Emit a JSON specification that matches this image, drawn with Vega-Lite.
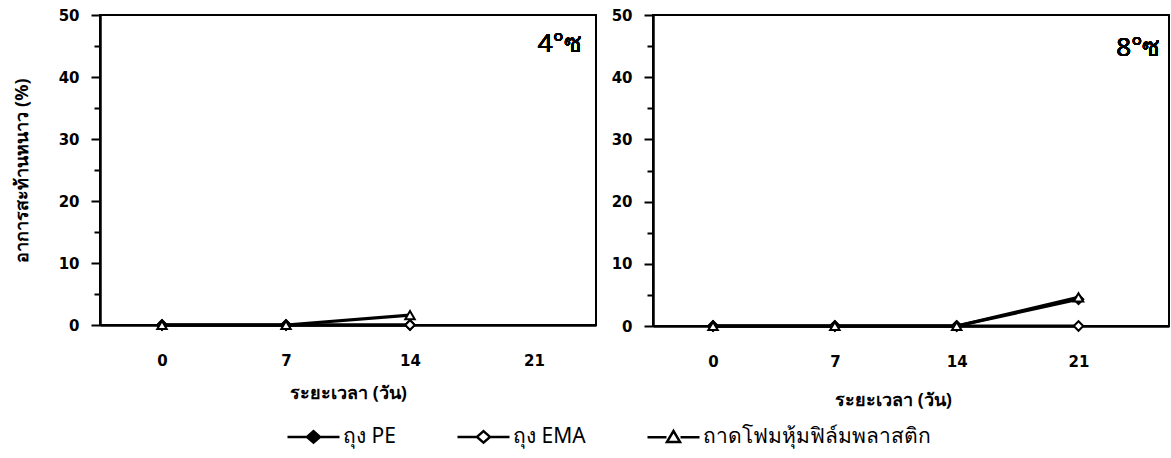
{
  "$schema": "https://vega.github.io/schema/vega-lite/v6.json",
  "background": "white",
  "padding": {"left": 12, "top": 7, "right": 1, "bottom": 4},
  "spacing": 13,
  "config": {
    "view": {"stroke": "black", "strokeWidth": 2},
    "font": "DejaVu Sans",
    "axis": {
      "domainColor": "black", "domainWidth": 2.5, "tickColor": "black", "tickWidth": 2,
      "labelColor": "black", "labelFont": "DejaVu Sans", "labelFontWeight": "bold", "labelFontSize": 15,
      "titleColor": "black", "titleFont": "Noto Sans", "titleFontWeight": "bold", "titleFontSize": 18,
      "grid": false
    },
    "legend": {"padding": 0}
  },
  "datasets": {
    "d4": [
      {"day": 0, "series": "ถุง PE", "value": 0},
      {"day": 7, "series": "ถุง PE", "value": 0},
      {"day": 14, "series": "ถุง PE", "value": 0},
      {"day": 0, "series": "ถุง EMA", "value": 0},
      {"day": 7, "series": "ถุง EMA", "value": 0},
      {"day": 14, "series": "ถุง EMA", "value": 0},
      {"day": 0, "series": "ถาดโฟมหุ้มฟิล์มพลาสติก", "value": 0},
      {"day": 7, "series": "ถาดโฟมหุ้มฟิล์มพลาสติก", "value": 0},
      {"day": 14, "series": "ถาดโฟมหุ้มฟิล์มพลาสติก", "value": 1.6}
    ],
    "d8": [
      {"day": 0, "series": "ถุง PE", "value": 0},
      {"day": 7, "series": "ถุง PE", "value": 0},
      {"day": 14, "series": "ถุง PE", "value": 0},
      {"day": 21, "series": "ถุง PE", "value": 4.3},
      {"day": 0, "series": "ถุง EMA", "value": 0},
      {"day": 7, "series": "ถุง EMA", "value": 0},
      {"day": 14, "series": "ถุง EMA", "value": 0},
      {"day": 21, "series": "ถุง EMA", "value": 0},
      {"day": 0, "series": "ถาดโฟมหุ้มฟิล์มพลาสติก", "value": 0},
      {"day": 7, "series": "ถาดโฟมหุ้มฟิล์มพลาสติก", "value": 0},
      {"day": 14, "series": "ถาดโฟมหุ้มฟิล์มพลาสติก", "value": 0},
      {"day": 21, "series": "ถาดโฟมหุ้มฟิล์มพลาสติก", "value": 4.6}
    ]
  },
  "hconcat": [
    {
      "width": 496, "height": 310,
      "data": {"name": "d4"},
      "resolve": {"axis": {"y": "independent"}},
      "layer": [
        {
          "mark": {"type": "line", "color": "black", "strokeWidth": 3.2},
          "encoding": {
            "x": {"field": "day", "type": "quantitative", "scale": {"domain": [-3.5, 24.5], "nice": false, "zero": false},
                  "axis": {"values": [0, 7, 14, 21], "ticks": false, "labelPadding": 28, "title": "ระยะเวลา (วัน)", "titlePadding": 16}},
            "y": {"field": "value", "type": "quantitative", "scale": {"domain": [0, 50], "nice": false},
                  "axis": {"values": [0, 10, 20, 30, 40, 50], "tickSize": 9, "labelPadding": 12, "title": "อาการสะท้านหนาว (%)", "titlePadding": 27}},
            "detail": {"field": "series"}
          }
        },
        {
          "transform": [{"filter": "datum.series === 'ถุง PE'"}],
          "mark": {"type": "point", "shape": "diamond", "filled": true, "fill": "black", "stroke": "black", "strokeWidth": 2, "size": 90, "opacity": 1},
          "encoding": {
            "x": {"field": "day", "type": "quantitative"},
            "y": {"field": "value", "type": "quantitative",
                  "axis": {"orient": "left", "values": [5, 15, 25, 35, 45], "labels": false, "domain": false, "tickSize": 6, "title": null}}
          }
        },
        {
          "transform": [{"filter": "datum.series === 'ถุง EMA'"}],
          "mark": {"type": "point", "shape": "diamond", "filled": true, "fill": "white", "stroke": "black", "strokeWidth": 2, "size": 90, "opacity": 1},
          "encoding": {
            "x": {"field": "day", "type": "quantitative"},
            "y": {"field": "value", "type": "quantitative", "axis": null}
          }
        },
        {
          "transform": [{"filter": "datum.series === 'ถาดโฟมหุ้มฟิล์มพลาสติก'"}],
          "mark": {"type": "point", "shape": "triangle-up", "filled": true, "fill": "white", "stroke": "black", "strokeWidth": 2, "size": 90, "opacity": 1},
          "encoding": {
            "x": {"field": "day", "type": "quantitative"},
            "y": {"field": "value", "type": "quantitative", "axis": null}
          }
        },
        {
          "transform": [{"filter": "datum.value < 0"}],
          "mark": {"type": "point", "filled": false, "color": "black", "strokeWidth": 2.5, "opacity": 1},
          "encoding": {
            "shape": {"field": "series", "type": "nominal",
                      "scale": {"domain": ["ถุง PE", "ถุง EMA", "ถาดโฟมหุ้มฟิล์มพลาสติก"],
                                "range": ["M-1,0H1M-0.25,0L0,-0.22L0.25,0L0,0.22Z", "M-1,0H-0.25M0.25,0H1M-0.25,0L0,-0.22L0.25,0L0,0.22Z", "M-1,0H-0.27M0.27,0H1M-0.25,0.18L0,-0.24L0.25,0.18Z"]},
                      "legend": {
                        "orient": "none", "legendX": 186, "legendY": 394, "direction": "horizontal", "title": null,
                        "symbolSize": 2704, "symbolStrokeColor": "black", "symbolStrokeWidth": 2.5, "symbolOpacity": 1,
                        "labelFont": "Noto Sans", "labelFontSize": 21, "labelColor": "black", "labelOffset": 2, "columnPadding": 56, "labelLimit": 400
                      }},
            "fill": {"field": "series", "type": "nominal",
                     "scale": {"domain": ["ถุง PE", "ถุง EMA", "ถาดโฟมหุ้มฟิล์มพลาสติก"], "range": ["black", "white", "white"]}},
            "stroke": {"field": "series", "type": "nominal",
                       "scale": {"domain": ["ถุง PE", "ถุง EMA", "ถาดโฟมหุ้มฟิล์มพลาสติก"], "range": ["black", "black", "black"]}}
          }
        },
        {
          "mark": {"type": "text", "text": "4°ซ", "align": "right", "baseline": "middle", "fontSize": 26, "font": "Noto Sans", "fontWeight": "normal", "color": "black"},
          "encoding": {"x": {"datum": 23.7}, "y": {"datum": 45.3, "axis": null}}
        }
      ]
    },
    {
      "width": 516, "height": 311,
      "data": {"name": "d8"},
      "resolve": {"axis": {"y": "independent"}},
      "layer": [
        {
          "mark": {"type": "line", "color": "black", "strokeWidth": 3.2},
          "encoding": {
            "x": {"field": "day", "type": "quantitative", "scale": {"domain": [-3.45, 26.2], "nice": false, "zero": false},
                  "axis": {"values": [0, 7, 14, 21], "ticks": false, "labelPadding": 28, "title": "ระยะเวลา (วัน)", "titlePadding": 22, "titleX": 240}},
            "y": {"field": "value", "type": "quantitative", "scale": {"domain": [0, 50], "nice": false},
                  "axis": {"values": [0, 10, 20, 30, 40, 50], "tickSize": 9, "labelPadding": 12, "title": null}},
            "detail": {"field": "series"}
          }
        },
        {
          "transform": [{"filter": "datum.series === 'ถุง PE'"}],
          "mark": {"type": "point", "shape": "diamond", "filled": true, "fill": "black", "stroke": "black", "strokeWidth": 2, "size": 90, "opacity": 1},
          "encoding": {
            "x": {"field": "day", "type": "quantitative"},
            "y": {"field": "value", "type": "quantitative",
                  "axis": {"orient": "left", "values": [5, 15, 25, 35, 45], "labels": false, "domain": false, "tickSize": 6, "title": null}}
          }
        },
        {
          "transform": [{"filter": "datum.series === 'ถุง EMA'"}],
          "mark": {"type": "point", "shape": "diamond", "filled": true, "fill": "white", "stroke": "black", "strokeWidth": 2, "size": 90, "opacity": 1},
          "encoding": {
            "x": {"field": "day", "type": "quantitative"},
            "y": {"field": "value", "type": "quantitative", "axis": null}
          }
        },
        {
          "transform": [{"filter": "datum.series === 'ถาดโฟมหุ้มฟิล์มพลาสติก'"}],
          "mark": {"type": "point", "shape": "triangle-up", "filled": true, "fill": "white", "stroke": "black", "strokeWidth": 2, "size": 90, "opacity": 1},
          "encoding": {
            "x": {"field": "day", "type": "quantitative"},
            "y": {"field": "value", "type": "quantitative", "axis": null}
          }
        },
        {
          "mark": {"type": "text", "text": "8°ซ", "align": "right", "baseline": "middle", "fontSize": 26, "font": "Noto Sans", "fontWeight": "normal", "color": "black"},
          "encoding": {"x": {"datum": 25.7}, "y": {"datum": 44.7, "axis": null}}
        }
      ]
    }
  ]
}
